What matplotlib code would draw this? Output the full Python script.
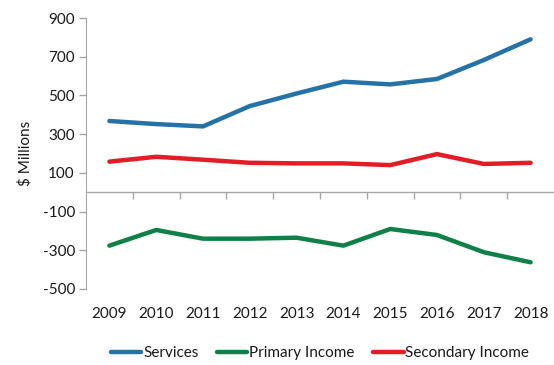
import matplotlib
matplotlib.use("Agg")
import matplotlib.pyplot as plt
import numpy as np

years = ["2009", "2010", "2011", "2012", "2013", "2014", "2015", "2016", "2017", "2018"]
services = [368, 352, 340, 445, 510, 571, 557, 585, 683, 790]
primary_income = [-276, -195, -240, -240, -235, -276, -190, -221, -310, -362]
secondary_income = [158, 183, 168, 152, 149, 149, 140, 197, 146, 152]

plt.rcParams["font.family"] = ["Lato", "DejaVu Sans"]
plt.rcParams["axes.unicode_minus"] = False
axis_grey = "#A6A6A6"
text_col = "#1a1a1a"
fs = 11

fig = plt.figure(figsize=(5.54, 3.65), dpi=100)
ax = fig.add_axes([86 / 554, 1 - 289 / 365, 468 / 554, (289 - 18) / 365])

x = np.arange(len(years))
ax.plot(x, services, color="#2472A6", lw=3.2, solid_capstyle="round", label="Services")
ax.plot(x, primary_income, color="#0F8046", lw=3.2, solid_capstyle="round", label="Primary Income")
ax.plot(x, secondary_income, color="#E31D26", lw=3.2, solid_capstyle="round", label="Secondary Income")

ax.set_xlim(-0.5, len(years) - 0.5)
ax.set_ylim(-500, 900)
ax.set_yticks(np.arange(-500, 901, 200))
ax.tick_params(axis="y", length=5, width=1, color=axis_grey, labelsize=fs,
               labelcolor=text_col, pad=3)

for s in ["top", "right", "bottom"]:
    ax.spines[s].set_visible(False)
ax.spines["left"].set_color(axis_grey)

# category labels along the bottom edge
ax.set_xticks(x)
ax.set_xticklabels(years)
ax.tick_params(axis="x", length=0, labelsize=fs, labelcolor=text_col, pad=13)

# category axis line crossing at zero, ticks between categories
zero_frac = (0 - (-500)) / 1400
sec = ax.secondary_xaxis(zero_frac)
sec.set_xticks(np.arange(0.5, len(years) - 0.5, 1.0))
sec.set_xticklabels([])
sec.tick_params(axis="x", direction="out", length=5, width=1, color=axis_grey)
sec.spines["bottom"].set_color(axis_grey)
sec.spines["bottom"].set_linewidth(1)

ax.set_ylabel("$ Millions", fontsize=fs, color=text_col, labelpad=7)

leg = ax.legend(loc="center", bbox_to_anchor=(0.5, -0.238), ncol=3, frameon=False,
                fontsize=fs, handlelength=2.0, handletextpad=0.12, columnspacing=1.2)
for t in leg.get_texts():
    t.set_color(text_col)

fig.savefig("out.png", dpi=100)
